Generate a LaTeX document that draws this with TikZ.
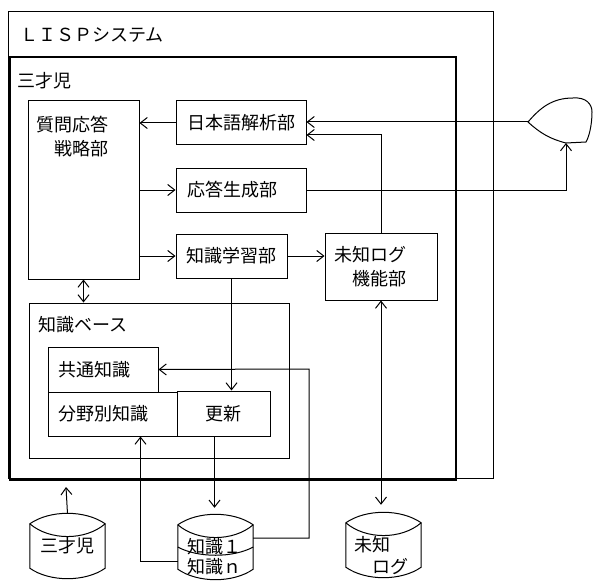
\documentclass[tikz,border=0pt]{standalone}
\usepackage{fontspec}
\setmainfont{Noto Sans CJK JP}
\usetikzlibrary{arrows.meta}
\begin{document}
\begin{tikzpicture}[x=1pt, y=-1pt,
  >={Straight Barb[length=7pt,width=11pt]},
  box/.style={rectangle, draw, line width=1pt, inner sep=0pt, font=\fontsize{18}{24}\selectfont, align=left},
  heavybox/.style={box, line width=2pt},
  drum/.style={rectangle, inner sep=0pt, minimum width=75pt, minimum height=64pt, font=\fontsize{18}{22}\selectfont, align=left},
  caption/.style={anchor=west, inner sep=0pt, font=\fontsize{18}{24}\selectfont, align=left},
  link/.style={line width=1pt},
]
\useasboundingbox (0,0) rectangle (593,580);
\node[box, minimum width=485pt, minimum height=466pt] (lisp) at (250.5,245) {};
\node[heavybox, minimum width=446pt, minimum height=423pt] (sansai) at (233,268.5) {};
\node[caption] (lisptitle) at (20,35) {ＬＩＳＰシステム};
\node[caption] (sansaititle) at (17,81) {三才児};

\node[box, minimum width=111pt, minimum height=178pt] (strategy) at (83.5,190) {};
\node[caption] (strategytext) at (36,137) {質問応答\\　戦略部};
\node[box, minimum width=130pt, minimum height=44pt] (parser) at (241,123) {日本語解析部};
\node[box, minimum width=130pt, minimum height=44pt] (reply) at (241,190) {応答生成部\hspace{18pt}};
\node[box, minimum width=111pt, minimum height=44pt] (learner) at (231.5,256) {知識学習部};
\node[box, minimum width=112pt, minimum height=67pt] (unknownlog) at (381,266.5) {};
\node[caption] (unknowntext) at (334,267) {未知ログ\\　機能部};

\node[box, minimum width=260pt, minimum height=155pt] (kbase) at (159,380.5) {};
\node[caption] (kbasetext) at (38,325) {知識ベース};
\node[box, minimum width=110pt, minimum height=45pt] (common) at (103,369.5) {共通知識\hspace{18pt}};
\node[box, minimum width=129pt, minimum height=44pt] (field) at (112.5,414) {分野別知識\hspace{18pt}};
\node[box, minimum width=93pt, minimum height=45pt] (update) at (223.5,413.5) {更新};

\node[drum] (progdisk) at (67.5,546) {三才児};
\node[drum] (knowdisk) at (215.5,547) {};
\node[caption] (knowtext) at (187,557) {知識１\\[-4pt]知識ｎ};
\node[drum] (logdisk) at (383.5,545) {};
\node[caption] (logtext) at (354,556) {未知\\[-2pt]　ログ};
\foreach \disk in {progdisk,knowdisk,logdisk} {
  \draw[line width=1pt] ([yshift=-10pt]\disk.north west) .. controls +(20,-14) and +(-20,-14) .. ([yshift=-10pt]\disk.north east)
    -- ([yshift=10pt]\disk.south east) .. controls +(-20,14) and +(20,14) .. ([yshift=10pt]\disk.south west) -- cycle;
  \draw[line width=1pt] ([yshift=-10pt]\disk.north west) .. controls +(20,17) and +(-20,17) .. ([yshift=-10pt]\disk.north east);
}
\draw[line width=1pt] (knowdisk.west) .. controls +(20,11) and +(-20,11) .. (knowdisk.east);

\draw[line width=1pt] (528,122) .. controls (540,108) and (552,98) .. (573,98)
  .. controls (586,97) and (592,104) .. (592,112)
  .. controls (592,125) and (589,137) .. (586,142)
  -- (566,143) .. controls (550,139) and (540,133) .. (528,122) -- cycle;
\coordinate (mouth) at (528,122);
\coordinate (ear) at (566,143);
\coordinate (bend) at (309,369);
\coordinate (progend) at (66,487);

\draw[link,->] (parser.west) -- (parser.west -| strategy.east);
\draw[link,->] (reply.west -| strategy.east) -- (reply.west);
\draw[link,->] (learner.west -| strategy.east) -- (learner.west);
\draw[link,<->] (strategy.south) -- (strategy.south |- kbase.north);
\draw[link,->] (mouth) -- (mouth -| parser.east);
\draw[link,->] (unknownlog.north) |- ([yshift=-12pt]parser.east);
\draw[link,->] (reply.east) -| (ear);
\draw[link,->] (learner.east) -- (learner.east -| unknownlog.west);
\draw[link,->] (learner.south) -- (learner.south |- update.north);
\draw[link,->] ([yshift=9pt]knowdisk.east) -| (bend) -- (common.east);
\draw[link,->] ([yshift=-14pt]knowdisk.west) -| ([xshift=28pt]field.south);
\draw[link,->,shorten >=7pt] ([xshift=-9pt]update.south) -- ([xshift=-9pt]update.south |- knowdisk.north);
\draw[link,->] (progdisk.north) -- (progend);
\draw[link,<->,shorten >=8pt] (unknownlog.south) -- (unknownlog.south |- logdisk.north);
\end{tikzpicture}
\end{document}
